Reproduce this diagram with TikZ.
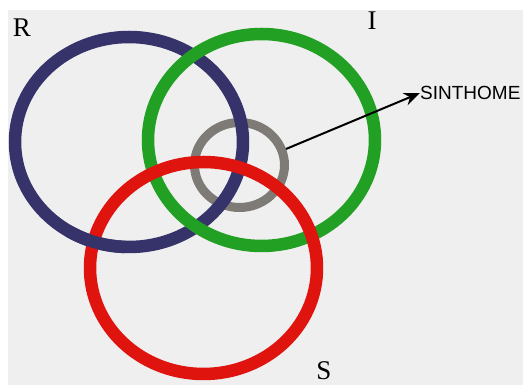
\documentclass[tikz,border=0pt]{standalone}
\usepackage{fontspec}
\setmainfont{Liberation Serif}
\newfontfamily\labelsans{Liberation Sans}
\usetikzlibrary{arrows.meta,shapes.geometric}
\definecolor{bgcol}{HTML}{EFEFEF}
\definecolor{ringblue}{HTML}{36336B}
\definecolor{ringgreen}{HTML}{22A024}
\definecolor{ringred}{HTML}{E0140F}
\definecolor{ringgray}{HTML}{7E7A75}
\begin{document}
\begin{tikzpicture}[x=1pt,y=1pt,
  ring/.style={line width=12.5pt},
  letter/.style={font=\fontsize{27}{27}\selectfont, anchor=base, inner sep=0pt},
  pointer/.style={line width=2pt, -{Stealth[length=16pt,width=13pt]}}]
\useasboundingbox (0,0) rectangle (523,385);
\fill[white] (0,0) rectangle (523,385);
\fill[bgcol] (8,0) rectangle (523,375);
% centres
\coordinate (bc) at (129,243);
\coordinate (gc) at (261.5,245);
\coordinate (rc) at (203.5,117);
% small ring
\node[ellipse, draw=ringgray, line width=9pt, inner sep=0pt,
      minimum width=90pt, minimum height=85pt] (sint) at (239.5,220) {};
% big rings
\draw[ring, ringblue] (bc) ellipse[x radius=114, y radius=105];
\draw[ring, ringgreen] (gc) ellipse[x radius=113.5, y radius=106];
\draw[ring, ringred] (rc) ellipse[x radius=113.5, y radius=106];
% blue passes over red on the left
\draw[ring, ringblue] ([shift={(238:114 and 105)}]bc) arc[start angle=238, end angle=268, x radius=114, y radius=105];
% labels
\node[letter] (lr) at (22,348) {R};
\node[letter] (li) at (372,355) {I};
\node[letter] (ls) at (324,5) {S};
\node[font=\labelsans\fontsize{19}{19}\selectfont, anchor=west, inner sep=0pt] (sin) at (420,292) {SINTHOME};
\draw[pointer] (sint.19) -- (sin.west);
\end{tikzpicture}
\end{document}
